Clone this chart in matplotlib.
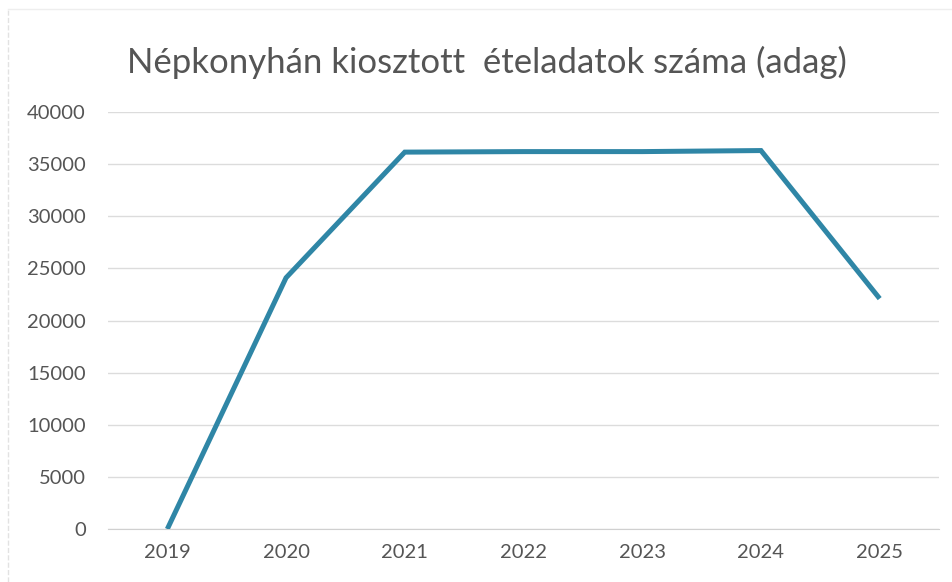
import matplotlib.pyplot as plt
from matplotlib.lines import Line2D

# data
years = ['2019', '2020', '2021', '2022', '2023', '2024', '2025']
portions = [0, 24100, 36150, 36200, 36200, 36300, 22100]
y_ticks = [0, 5000, 10000, 15000, 20000, 25000, 30000, 35000, 40000]

title = 'Népkonyhán kiosztott  ételadatok száma (adag)'

plt.rcParams['font.family'] = ['Lato', 'DejaVu Sans']

fig = plt.figure(figsize=(9.52, 5.82), dpi=100)
ax = fig.add_axes([0.1134, 0.091, 0.873, 0.7166])

x = list(range(len(years)))
ax.plot(x, portions, color='#2f86a6', linewidth=3.6, solid_capstyle='butt', solid_joinstyle='miter', zorder=3)

ax.set_xlim(-0.5, len(years) - 0.5)
ax.set_ylim(0, 40000)
ax.set_xticks(x)
ax.set_xticklabels(years)
ax.set_yticks(y_ticks)
ax.set_yticklabels([str(v) for v in y_ticks])

ax.grid(axis='y', color='#dcdcdc', linewidth=1)
ax.set_axisbelow(True)
for s in ['top', 'right', 'left']:
    ax.spines[s].set_visible(False)
ax.spines['bottom'].set_color('#d0d0d0')
ax.tick_params(length=0, labelsize=14.5, labelcolor='#555555', pad=11)
ax.tick_params(axis='y', pad=16)

fig.text(0.512, 0.893, title, ha='center', va='center', fontsize=25, color='#555555')

# faint border left by the scan
fig.add_artist(Line2D([0.008, 0.008], [0.0, 0.985], color='#e2e2e2', linewidth=1, linestyle='--'))
fig.add_artist(Line2D([0.008, 1.0], [0.985, 0.985], color='#eeeeee', linewidth=1))

fig.savefig('out.png', dpi=100)
